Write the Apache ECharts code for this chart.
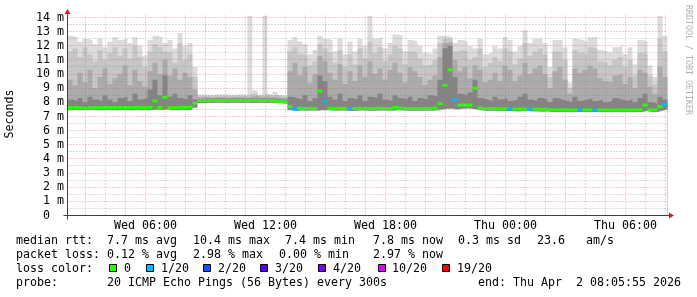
<!DOCTYPE html>
<html>
<head>
<meta charset="utf-8">
<script src="https://cdn.jsdelivr.net/npm/echarts@6/dist/echarts.min.js"></script>
<style>
html,body{margin:0;padding:0;background:#ffffff;}
#chart{width:697px;height:297px;}
</style>
</head>
<body>
<div id="chart"></div>
<script>
// x axis: hours since Wed 00:00
const startHour = 2 + 5/60 + 55/3600;   // Wed 02:05:55
const endHour = startHour + 30;           // Thu 08:05:55
const binHours = 0.25;                    // one value per 15 minutes
const yMax = 14.14;

const yTickValues = [0,1,2,3,4,5,6,7,8,9,10,11,12,13,14];
const yMinorValues = [0.5,1.5,2.5,3.5,4.5,5.5,6.5,7.5,8.5,9.5,10.5,11.5,12.5,13.5];
const xLabelHours = [6,12,18,24,30];
const xMajorHours = [3,6,9,12,15,18,21,24,27,30];
const xMinorHours = [4,5,7,8,10,11,13,14,16,17,19,20,22,23,25,26,28,29,31,32];

// median rtt (ms) per 15-minute bin
const median = [
7.62,7.63,7.62,7.60,7.62,7.63,7.62,7.64,7.62,7.63,
7.64,7.62,7.63,7.64,7.63,7.62,7.64,8.10,7.65,8.35,
7.63,7.62,7.63,7.64,7.66,7.95,
8.12,8.13,8.12,8.14,8.13,8.12,8.13,8.14,8.13,8.12,8.13,8.14,8.13,8.12,8.13,8.10,8.06,8.05,
7.70,7.52,7.58,7.57,7.58,7.57,8.80,8.10,7.58,7.57,
7.58,7.57,7.55,7.57,7.58,7.57,7.56,7.57,7.58,7.57,
7.56,7.64,7.60,7.57,7.56,7.57,7.56,7.57,7.56,7.58,
7.90,9.20,10.30,8.20,7.80,7.82,7.80,9.00,7.60,7.55,
7.56,7.55,7.54,7.55,7.53,7.52,7.53,7.52,7.51,7.52,
7.50,7.51,7.48,7.47,7.48,7.47,7.46,7.47,7.48,7.47,
7.47,7.48,7.46,7.47,7.46,7.47,7.46,7.47,7.46,7.47,
7.48,7.80,7.46,7.47,7.70,7.83];

// lost pings (out of 20) per bin
const loss = [
0,0,0,0,0,0,0,0,0,0, 0,0,0,0,0,0,0,0,0,0,
0,0,0,0,0,0,0,0,0,0, 0,0,0,0,0,0,0,0,0,0,
0,0,0,0,0,1,0,0,0,0, 0,1,0,0,0,0,1,0,0,0,
0,0,0,0,0,0,0,0,0,0, 0,0,0,0,0,0,0,1,0,0,
0,0,0,0,0,0,0,0,1,0, 0,0,1,0,0,0,0,0,0,0,
0,0,1,0,0,1,0,0,0,0, 0,0,0,0,0,0,0,0,0,1];

// smoke: lowest ping, then tops of progressively lighter bands
const smokeMin = [
7.45,7.46,7.44,7.45,7.46,7.45,7.44,7.46,7.45,7.45,
7.46,7.44,7.45,7.46,7.45,7.44,7.46,7.48,7.46,7.50,
7.45,7.44,7.46,7.45,7.47,7.62,
7.96,7.97,7.96,7.98,7.97,7.96,7.97,7.98,7.96,7.97,7.96,7.98,7.97,7.96,7.97,7.95,7.92,7.90,
7.45,7.38,7.42,7.41,7.42,7.41,7.45,7.44,7.42,7.41,
7.42,7.41,7.39,7.41,7.42,7.41,7.40,7.41,7.42,7.41,
7.40,7.45,7.43,7.41,7.40,7.41,7.40,7.41,7.40,7.42,
7.50,7.55,7.55,7.50,7.55,7.56,7.55,7.50,7.42,7.39,
7.40,7.39,7.38,7.39,7.37,7.36,7.37,7.38,7.35,7.36,
7.34,7.35,7.32,7.31,7.32,7.31,7.30,7.31,7.32,7.31,
7.31,7.32,7.30,7.31,7.30,7.31,7.30,7.31,7.30,7.31,
7.32,7.40,7.30,7.31,7.40,7.50];

const smoke1 = [
8.2,8.1,8.3,8.0,8.4,8.2,8.1,8.5,8.2,8.0,
8.3,8.4,8.1,8.6,8.2,8.3,8.9,9.6,8.5,9.9,
8.4,8.6,8.3,8.2,8.5,8.2,
8.26,8.27,8.25,8.28,8.27,8.26,8.27,8.28,8.27,8.26,8.27,8.28,8.27,8.26,8.27,8.24,8.20,8.19,
8.4,8.3,8.2,8.5,8.1,8.3,9.9,9.5,8.4,8.2,
8.6,8.1,8.3,8.2,8.5,8.1,8.4,8.3,8.6,8.2,
8.1,8.5,8.3,8.2,8.4,8.1,8.3,8.2,8.5,8.4,
9.6,11.8,12.0,9.8,8.6,8.5,8.7,9.6,8.3,8.2,
8.1,8.4,8.2,8.3,8.1,8.2,8.4,8.6,8.2,8.1,
8.3,8.2,8.0,8.3,8.2,8.1,8.0,8.4,8.1,8.2,
8.3,8.1,8.2,8.0,8.1,8.3,8.2,8.1,8.2,8.0,
8.3,8.6,8.0,7.9,8.4,8.2];

const smoke2 = [
9.6,9.2,10.1,9.4,10.3,9.0,9.8,10.4,9.3,9.7,
10.0,10.6,9.2,10.3,9.5,9.1,10.2,10.8,10.0,11.0,
9.9,10.4,9.6,10.1,9.8,8.9,
8.36,8.37,8.35,8.38,8.37,8.36,8.37,8.38,8.37,8.36,8.42,8.45,8.37,8.42,8.37,8.40,8.32,8.30,
10.2,10.8,9.9,10.5,9.4,10.0,11.3,10.9,10.1,9.6,
10.7,9.3,10.2,9.5,10.6,9.8,10.9,10.0,10.4,9.6,
10.3,10.8,10.1,9.4,10.5,10.2,9.8,9.2,9.6,9.9,
11.2,12.2,12.3,11.0,10.2,10.5,9.7,10.6,10.3,9.4,
9.6,10.1,9.5,10.6,10.3,9.5,9.9,10.8,10.0,10.4,
10.6,10.0,9.0,10.2,10.5,9.6,8.6,10.4,10.1,10.3,
10.6,10.4,9.7,9.5,9.4,9.9,10.0,9.3,9.8,9.0,
10.3,10.1,9.1,8.6,10.5,9.8];

const smoke3 = [
11.6,11.8,11.2,11.9,11.4,10.9,11.7,11.0,11.5,11.9,
11.3,11.8,11.1,12.0,11.2,10.5,11.6,12.1,11.9,11.6,
11.5,10.8,12.2,11.0,11.4,9.8,
8.46,8.47,8.45,8.48,8.47,8.46,8.47,8.48,8.47,8.46,8.60,8.65,8.47,8.60,8.47,8.55,8.42,8.40,
11.6,11.9,11.4,11.3,10.6,10.9,12.1,11.8,11.5,10.8,
11.7,10.5,11.4,10.7,11.8,11.1,12.3,11.5,11.9,10.9,
11.4,12.0,11.8,10.7,11.6,11.5,11.1,10.6,10.7,11.0,
12.2,12.5,12.5,11.6,11.7,11.6,11.0,11.2,11.8,10.5,
10.8,11.2,10.9,11.8,11.6,10.7,11.1,12.2,11.3,11.6,
11.8,11.4,9.8,11.6,11.5,11.0,9.0,11.7,11.5,11.4,
11.9,11.8,10.9,10.8,10.6,11.0,11.2,10.5,11.0,9.9,
11.5,11.4,9.9,9.3,12.5,11.6];

const smokeMax = [
12.7,12.6,12.3,12.5,12.4,12.1,12.5,11.9,12.3,12.6,
12.4,12.5,12.2,12.6,12.0,11.3,12.4,12.7,12.6,12.2,
12.4,11.8,12.9,12.0,12.2,10.5,
8.55,8.56,8.54,8.57,8.58,8.55,8.54,8.56,8.58,8.55,14.1,8.85,8.56,14.1,8.55,8.75,8.52,8.50,
12.4,12.6,12.3,12.1,11.4,11.7,12.7,12.5,12.4,11.6,
12.5,11.4,12.3,11.6,12.5,12.0,14.1,12.5,12.6,11.8,
12.2,12.8,12.7,11.6,12.4,12.3,12.0,11.5,11.4,11.8,
12.7,12.7,12.6,12.2,12.4,12.3,12.0,11.8,12.5,11.4,
11.5,12.0,11.8,12.6,12.4,11.6,12.0,13.1,12.2,12.5,
12.5,12.2,10.5,12.4,12.4,11.9,9.4,12.5,12.4,12.3,
12.6,12.6,11.7,11.6,11.5,11.9,12.0,11.4,11.9,10.7,
12.4,12.3,10.6,9.8,14.1,12.7];

const lossLevels = [0,1,2,3,4,10,19];
const lossColors = ['#26ff00','#00b8ff','#0059ff','#5e00ff','#7e00ff','#dd00ff','#ff0000'];
const lossLabels = ['0','1/20','2/20','3/20','4/20','10/20','19/20'];

const legendLine1 = ['median rtt:  7.7 ms avg','10.4 ms max','7.4 ms min','7.8 ms now','0.3 ms sd','23.6   am/s'];
const legendLine2 = ['packet loss: 0.12 % avg','2.98 % max','0.00 % min','2.97 % now'];
const legendLine3Title = 'loss color:';
const legendLine4 = ['probe:       20 ICMP Echo Pings (56 Bytes) every 300s','end: Thu Apr  2 08:05:55 2026'];
const yTitle = 'Seconds';
const watermark = 'RRDTOOL / TOBI OETIKER';

// ---- layout (pixels) ----
const line1X = [16,193,285,373,458,537];
const line2X = [16,193,279,373];
const line4X = [16,478];
const boxX = [109,146,203,260,318,378,442];
const boxLabelX = [124,161,218,275,333,392,457];
const rowY = [241,255,269,283];

const FONT_FAMILY = '"DejaVu Sans Mono", monospace';
const FS = 11.63;
const FONT = FS + 'px ' + FONT_FAMILY;

function stepData(arr) {
  const d = arr.map((v, i) => [startHour + binHours * i, v]);
  d.push([endHour, arr[arr.length - 1]]);
  return d;
}
function lossColor(n) {
  let c = lossColors[0];
  for (let k = 0; k < lossLevels.length; k++) if (n >= lossLevels[k]) c = lossColors[k];
  return c;
}
function fmtHour(h) {
  const day = h < 24 ? 'Wed' : 'Thu';
  const hh = Math.round(h % 24);
  return day + ' ' + (hh < 10 ? '0' : '') + hh + ':00';
}

const smokeLayers = [
  { data: smokeMax, color: '#dcdcdc' },
  { data: smoke3, color: '#c6c6c6' },
  { data: smoke2, color: '#ababab' },
  { data: smoke1, color: '#848484' },
  { data: smokeMin, color: '#ffffff' }
];

const series = smokeLayers.map(l => ({
  type: 'line', step: 'end', data: stepData(l.data), symbol: 'none', silent: true,
  lineStyle: { width: 0 }, areaStyle: { color: l.color, opacity: 1 }, z: 2, animation: false
}));

// grid lines (drawn over the smoke, like rrdtool)
const gridData = [];
yMinorValues.forEach(v => gridData.push([startHour, v, 0, 0]));
yTickValues.forEach(v => { if (v > 0) gridData.push([startHour, v, 0, 1]); });
xMinorHours.forEach(h => gridData.push([h, 0, 1, 0]));
xMajorHours.forEach(h => gridData.push([h, 0, 1, 1]));
series.push({
  type: 'custom', z: 3, silent: true, animation: false,
  dimensions: ['x', 'y', 'o', 'm'], encode: { x: 0, y: 1 },
  data: gridData,
  renderItem(params, api) {
    const cs = params.coordSys;
    const p = api.coord([api.value(0), api.value(1)]);
    const major = api.value(3) === 1;
    let shape;
    if (api.value(2) === 0) {
      const y = Math.floor(p[1]) + 0.5;
      shape = { x1: cs.x, y1: y, x2: cs.x + cs.width, y2: y };
    } else {
      const x = Math.floor(p[0]) + 0.5;
      shape = { x1: x, y1: cs.y, x2: x, y2: cs.y + cs.height };
    }
    return { type: 'line', shape, style: {
      stroke: major ? 'rgba(224,80,80,0.6)' : 'rgba(140,140,140,0.6)', lineWidth: 1, lineDash: [1, 2] } };
  }
});

// median: one short segment per bin, coloured by packet loss
const medianData = median.map((v, i) => [startHour + binHours * i, v, loss[i]]);
series.push({
  type: 'custom', z: 5, silent: true, animation: false,
  dimensions: ['x', 'y', 'n'], encode: { x: 0, y: 1 },
  data: medianData,
  renderItem(params, api) {
    const t = api.value(0), v = api.value(1);
    const a = api.coord([t, v]), b = api.coord([t + binHours, v]);
    return { type: 'rect', shape: { x: a[0], y: a[1] - 1.5, width: b[0] - a[0], height: 3 },
      style: { fill: lossColor(api.value(2)) } };
  }
});

// axes with arrows
series.push({
  type: 'custom', z: 6, silent: true, animation: false,
  data: [[startHour, 0]],
  renderItem(params, api) {
    const o = api.coord([startHour, 0]);
    const e = api.coord([endHour, 0]);
    const t = api.coord([startHour, yMax]);
    const x0 = Math.floor(o[0]) + 0.5, y0 = Math.floor(o[1]) + 0.5;
    const xe = Math.round(e[0]), yt = Math.round(t[1]);
    return { type: 'group', children: [
      { type: 'line', shape: { x1: x0 - 4, y1: y0, x2: xe + 4, y2: y0 }, style: { stroke: '#404040', lineWidth: 1 } },
      { type: 'line', shape: { x1: x0, y1: y0 + 4, x2: x0, y2: yt - 4 }, style: { stroke: '#404040', lineWidth: 1 } },
      { type: 'polygon', shape: { points: [[xe + 2, y0 - 3], [xe + 2, y0 + 3], [xe + 7, y0]] }, style: { fill: '#c82020' } },
      { type: 'polygon', shape: { points: [[x0 - 3, yt - 2], [x0 + 3, yt - 2], [x0, yt - 7]] }, style: { fill: '#c82020' } }
    ] };
  }
});

// legend / text graphics
const graphics = [];
function txt(text, x, y, extra) {
  return Object.assign({ type: 'text', x: x, y: y, silent: true,
    style: { text: text, x: 0, y: 0, font: FONT, fill: '#000', textAlign: 'left', textVerticalAlign: 'middle' } }, extra || {});
}
legendLine1.forEach((s, i) => graphics.push(txt(s, line1X[i], rowY[0])));
legendLine2.forEach((s, i) => graphics.push(txt(s, line2X[i], rowY[1])));
graphics.push(txt(legendLine3Title, 16, rowY[2]));
lossLabels.forEach((s, i) => {
  graphics.push({ type: 'rect', silent: true, shape: { x: boxX[i] + 0.5, y: rowY[2] - 4.5, width: 7, height: 7 },
    style: { fill: lossColors[i], stroke: '#000', lineWidth: 1 } });
  graphics.push(txt(s, boxLabelX[i], rowY[2]));
});
legendLine4.forEach((s, i) => graphics.push(txt(s, line4X[i], rowY[3])));
graphics.push({ type: 'text', x: 10, y: 114, rotation: Math.PI / 2, silent: true,
  style: { text: yTitle, x: 0, y: 0, font: FONT, fill: '#000', textAlign: 'center', textVerticalAlign: 'middle' } });
graphics.push({ type: 'text', x: 688, y: 60, rotation: -Math.PI / 2, silent: true,
  style: { text: watermark, x: 0, y: 0, font: '8.3px ' + FONT_FAMILY, fill: '#b0b0b0', textAlign: 'center', textVerticalAlign: 'middle' } });

const chart = echarts.init(document.getElementById('chart'), null, { renderer: 'canvas', width: 697, height: 297 });
chart.setOption({
  animation: false,
  backgroundColor: '#ffffff',
  grid: { left: 67.472, right: 29.528, top: 15.5, bottom: 81.5, containLabel: false },
  xAxis: {
    type: 'value', min: startHour, max: endHour,
    axisLine: { show: false }, axisTick: { show: false }, splitLine: { show: false },
    axisLabel: { customValues: xLabelHours, formatter: fmtHour, margin: 4, color: '#000',
      fontFamily: FONT_FAMILY, fontSize: FS }
  },
  yAxis: {
    type: 'value', min: 0, max: yMax,
    axisLine: { show: false }, axisTick: { show: false }, splitLine: { show: false },
    axisLabel: { customValues: yTickValues, align: 'left', margin: 31.5, color: '#000',
      fontFamily: FONT_FAMILY, fontSize: FS,
      formatter: v => v === 0 ? ' 0' : (v < 10 ? ' ' : '') + v + ' m' }
  },
  graphic: graphics,
  series: series
});
</script>
</body>
</html>
